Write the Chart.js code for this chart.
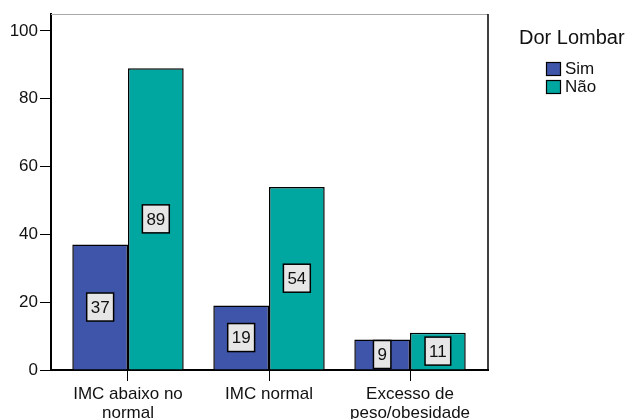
<!DOCTYPE html>
<html>
<head>
<meta charset="utf-8">
<script src="https://cdn.jsdelivr.net/npm/chart.js@4/dist/chart.umd.min.js"></script>
<style>
  html, body { margin: 0; padding: 0; background: #ffffff; }
  #wrap { width: 630px; height: 419px; }
</style>
</head>
<body>
<div id="wrap"><canvas id="c" width="630" height="419"></canvas></div>
<script>
// Grouped bar chart: low back pain (Dor Lombar) by BMI group
const categories = [['IMC abaixo no', 'normal'], ['IMC normal'], ['Excesso de', 'peso/obesidade']];
const simValues = [37, 19, 9];
const naoValues = [89, 54, 11];
const seriesNames = ['Sim', 'Não'];
const seriesColors = ['#3F55A9', '#00A6A0'];
const yTickValues = [0, 20, 40, 60, 80, 100];
const legendTitle = 'Dor Lombar';

const FONT = '"Liberation Sans", Arial, sans-serif';
const TEXT = '#111111';

// Plot frame: grey top edge and black right edge
const framePlugin = {
  id: 'frame',
  beforeDatasetsDraw(chart) {
    const { ctx, chartArea: a } = chart;
    ctx.save();
    ctx.strokeStyle = '#a9a9a9';
    ctx.lineWidth = 1;
    ctx.beginPath();
    ctx.moveTo(a.left, a.top + 0.5);
    ctx.lineTo(a.right, a.top + 0.5);
    ctx.stroke();
    ctx.strokeStyle = '#000000';
    ctx.lineWidth = 1.5;
    ctx.beginPath();
    ctx.moveTo(a.right, a.top);
    ctx.lineTo(a.right, a.bottom);
    ctx.stroke();
    ctx.restore();
  }
};

// Boxed value labels in the middle of each bar
const valueLabels = {
  id: 'valueLabels',
  afterDatasetsDraw(chart) {
    const { ctx } = chart;
    ctx.save();
    ctx.font = '17px ' + FONT;
    ctx.textAlign = 'center';
    ctx.textBaseline = 'middle';
    chart.data.datasets.forEach((ds, di) => {
      const meta = chart.getDatasetMeta(di);
      meta.data.forEach((bar, i) => {
        const v = ds.data[i].y;
        const text = String(v);
        const cx = bar.x;
        const cy = (bar.y + bar.base) / 2;
        const w = ctx.measureText(text).width + 8;
        const h = 28;
        ctx.fillStyle = '#e6e6e6';
        ctx.fillRect(cx - w / 2, cy - h / 2, w, h);
        ctx.strokeStyle = '#000000';
        ctx.lineWidth = 1.5;
        ctx.strokeRect(cx - w / 2, cy - h / 2, w, h);
        ctx.fillStyle = TEXT;
        ctx.fillText(text, cx, cy + 1);
      });
    });
    ctx.restore();
  }
};

// Legend with title on the right
const sideLegend = {
  id: 'sideLegend',
  afterDraw(chart) {
    const { ctx } = chart;
    ctx.save();
    ctx.fillStyle = TEXT;
    ctx.textBaseline = 'middle';
    ctx.textAlign = 'left';
    ctx.font = '20px ' + FONT;
    ctx.fillText(legendTitle, 519, 38);
    chart.data.datasets.forEach((ds, i) => {
      const y = 62 + i * 18;
      ctx.fillStyle = ds.backgroundColor;
      ctx.fillRect(546, y, 15, 14);
      ctx.strokeStyle = '#000000';
      ctx.lineWidth = 1.2;
      ctx.strokeRect(546.5, y + 0.5, 14, 13);
      ctx.fillStyle = TEXT;
      ctx.font = '17px ' + FONT;
      ctx.fillText(ds.label, 565, y + 7.5);
    });
    ctx.restore();
  }
};

const datasets = [simValues, naoValues].map((vals, s) => ({
  label: seriesNames[s],
  data: vals.map((v, i) => ({ x: i, y: v })),
  backgroundColor: seriesColors[s],
  borderColor: '#000000',
  borderWidth: 1.5,
  categoryPercentage: 0.79,
  barPercentage: 1.0
}));

new Chart(document.getElementById('c'), {
  type: 'bar',
  data: { datasets },
  options: {
    responsive: false,
    devicePixelRatio: 1,
    animation: false,
    layout: { padding: { top: 14, right: 142, bottom: 0, left: 0 } },
    plugins: {
      legend: { display: false },
      tooltip: { enabled: false }
    },
    scales: {
      x: {
        type: 'linear',
        offset: false,
        min: -0.546,
        max: 2.553,
        afterBuildTicks(scale) {
          scale.ticks = categories.map((_, i) => ({ value: i }));
        },
        afterFit(scale) { scale.height = 49; },
        ticks: {
          autoSkip: false,
          maxRotation: 0,
          padding: 4,
          color: TEXT,
          font: { family: FONT, size: 17, lineHeight: 1.1 },
          callback: (v) => categories[v]
        },
        grid: {
          display: true,
          offset: false,
          drawOnChartArea: false,
          drawTicks: true,
          tickLength: 11,
          color: '#000000',
          lineWidth: 1
        },
        border: { display: true, color: '#000000', width: 2 }
      },
      y: {
        min: 0,
        max: 105,
        afterBuildTicks(scale) {
          scale.ticks = yTickValues.map(v => ({ value: v }));
        },
        afterFit(scale) { scale.width = 51; },
        ticks: {
          padding: 2,
          color: TEXT,
          font: { family: FONT, size: 17 }
        },
        grid: {
          display: true,
          drawOnChartArea: false,
          drawTicks: true,
          tickLength: 11,
          color: '#000000',
          lineWidth: 1
        },
        border: { display: true, color: '#000000', width: 2 }
      }
    }
  },
  plugins: [framePlugin, valueLabels, sideLegend]
});
</script>
</body>
</html>
